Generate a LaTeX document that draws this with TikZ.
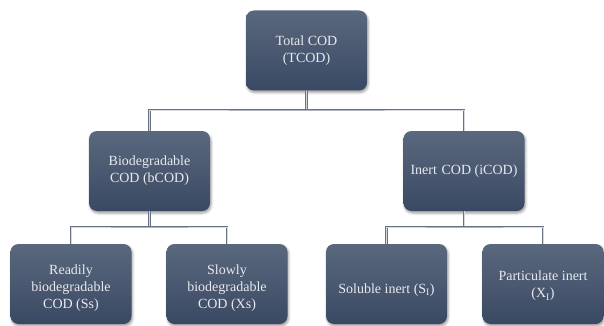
\documentclass[tikz,border=0pt]{standalone}
\usepackage{fontspec}
\setmainfont{Liberation Serif}
\usetikzlibrary{shadows.blur}
\definecolor{boxtop}{RGB}{90,104,126}
\definecolor{boxbot}{RGB}{58,73,99}
\definecolor{linkout}{RGB}{104,114,132}
\definecolor{linkin}{RGB}{214,218,224}
\definecolor{boxtext}{RGB}{232,234,238}
\begin{document}
\begin{tikzpicture}[x=1pt,y=-1pt,
  codbox/.style={rounded corners=8pt, top color=boxtop, bottom color=boxbot,
    draw=none, minimum width=121pt, minimum height=80pt, inner sep=0pt,
    blur shadow={shadow xshift=1pt, shadow yshift=-2pt, shadow blur radius=2.5pt, shadow opacity=40}},
  codtext/.style={text=boxtext, font=\fontsize{14}{17}\selectfont, align=center, inner sep=0pt},
  link/.style={draw=linkout, line width=0.7pt, double=linkin, double distance=0.9pt}]
\useasboundingbox (0,0) rectangle (604,326);
% boxes
\node[codbox] (top) at (306.5,50.5) {};
\node[codbox] (bcod) at (149.5,171) {};
\node[codbox] (icod) at (464,171) {};
\node[codbox] (ss) at (71,284) {};
\node[codbox] (xs) at (227,284) {};
\node[codbox] (si) at (386.5,284) {};
\node[codbox] (xi) at (543,284) {};
% texts
\node[codtext] (ttop) at (top.center) {Total COD\\(TCOD)};
\node[codtext] (tbcod) at (bcod.center) {Biodegradable\\COD (bCOD)};
\node[codtext] (ticod) at (icod.center) {Inert\,\,COD (iCOD)};
\node[codtext] (tss) at ([yshift=-4pt]ss.center) {Readily\\biodegradable\\COD (Ss)};
\node[codtext] (txs) at ([yshift=-4pt]xs.center) {Slowly\\biodegradable\\COD (Xs)};
\node[codtext] (tsi) at ([yshift=-6pt]si.center) {Soluble inert (S\textsubscript{I})};
\node[codtext] (txi) at ([yshift=-2pt]xi.center) {Particulate inert\\(X\textsubscript{I})};
% junctions
\coordinate (j1) at (306.5,110);
\coordinate (j2) at (149.5,227);
\coordinate (j3) at (464,227);
% connectors
\draw[link] (top.south) -- (j1);
\draw[link] (bcod.north) |- (j1) -| (icod.north);
\draw[link] (bcod.south) -- (j2);
\draw[link] (ss.north) |- (j2) -| (xs.north);
\draw[link] (icod.south) -- (j3);
\draw[link] (si.north) |- (j3) -| (xi.north);
\end{tikzpicture}
\end{document}
